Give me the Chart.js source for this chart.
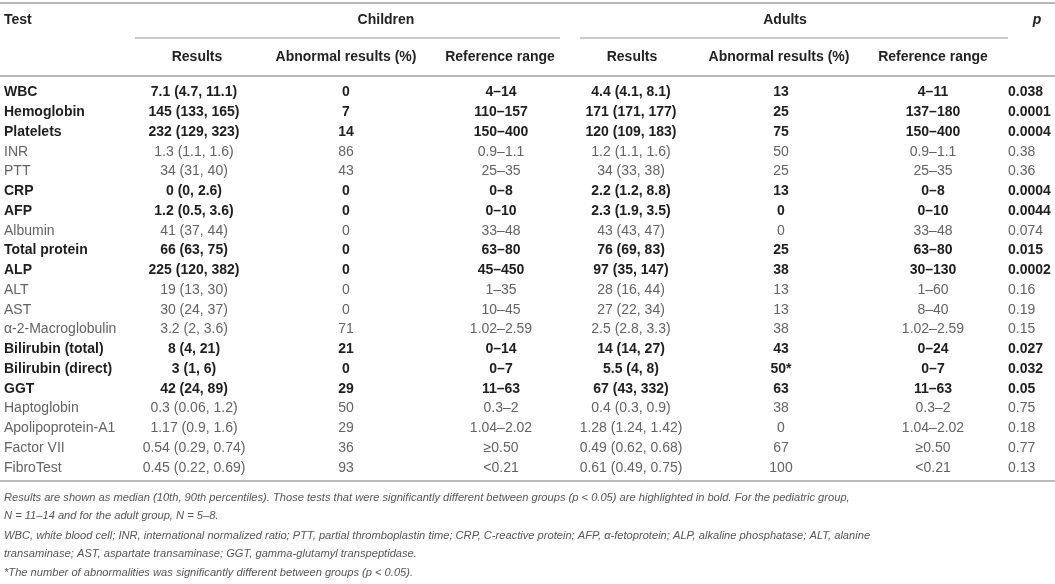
<!DOCTYPE html>
<html>
<head>
<meta charset="utf-8">
<script src="https://cdn.jsdelivr.net/npm/chart.js@4.4.1/dist/chart.umd.min.js"></script>
<style>
  html, body { margin: 0; padding: 0; background: #fff; }
  #wrap { width: 1055px; height: 584px; position: relative; }
</style>
</head>
<body>
<div id="wrap"><canvas id="tabla"></canvas></div>
<script>
// Datos de la tabla
const tests = ['WBC', 'Hemoglobin', 'Platelets', 'INR', 'PTT', 'CRP', 'AFP', 'Albumin', 'Total protein', 'ALP',
  'ALT', 'AST', 'α-2-Macroglobulin', 'Bilirubin (total)', 'Bilirubin (direct)', 'GGT', 'Haptoglobin',
  'Apolipoprotein-A1', 'Factor VII', 'FibroTest'];
const boldRows = [true, true, true, false, false, true, true, false, true, true,
  false, false, false, true, true, true, false, false, false, false];

const childResults = ['7.1 (4.7, 11.1)', '145 (133, 165)', '232 (129, 323)', '1.3 (1.1, 1.6)', '34 (31, 40)',
  '0 (0, 2.6)', '1.2 (0.5, 3.6)', '41 (37, 44)', '66 (63, 75)', '225 (120, 382)', '19 (13, 30)', '30 (24, 37)',
  '3.2 (2, 3.6)', '8 (4, 21)', '3 (1, 6)', '42 (24, 89)', '0.3 (0.06, 1.2)', '1.17 (0.9, 1.6)',
  '0.54 (0.29, 0.74)', '0.45 (0.22, 0.69)'];
const childAbnormal = ['0', '7', '14', '86', '43', '0', '0', '0', '0', '0', '0', '0', '71', '21', '0', '29', '50', '29', '36', '93'];
const childRange = ['4–14', '110–157', '150–400', '0.9–1.1', '25–35', '0–8', '0–10', '33–48', '63–80', '45–450',
  '1–35', '10–45', '1.02–2.59', '0–14', '0–7', '11–63', '0.3–2', '1.04–2.02', '≥0.50', '<0.21'];

const adultResults = ['4.4 (4.1, 8.1)', '171 (171, 177)', '120 (109, 183)', '1.2 (1.1, 1.6)', '34 (33, 38)',
  '2.2 (1.2, 8.8)', '2.3 (1.9, 3.5)', '43 (43, 47)', '76 (69, 83)', '97 (35, 147)', '28 (16, 44)', '27 (22, 34)',
  '2.5 (2.8, 3.3)', '14 (14, 27)', '5.5 (4, 8)', '67 (43, 332)', '0.4 (0.3, 0.9)', '1.28 (1.24, 1.42)',
  '0.49 (0.62, 0.68)', '0.61 (0.49, 0.75)'];
const adultAbnormal = ['13', '25', '75', '50', '25', '13', '0', '0', '25', '38', '13', '13', '38', '43', '50*', '63', '38', '0', '67', '100'];
const adultRange = ['4–11', '137–180', '150–400', '0.9–1.1', '25–35', '0–8', '0–10', '33–48', '63–80', '30–130',
  '1–60', '8–40', '1.02–2.59', '0–24', '0–7', '11–63', '0.3–2', '1.04–2.02', '≥0.50', '<0.21'];
const pValues = ['0.038', '0.0001', '0.0004', '0.38', '0.36', '0.0004', '0.0044', '0.074', '0.015', '0.0002',
  '0.16', '0.19', '0.15', '0.027', '0.032', '0.05', '0.75', '0.18', '0.77', '0.13'];

const subHeaders = ['Results', 'Abnormal results (%)', 'Reference range'];
const footnotes = [
  'Results are shown as median (10th, 90th percentiles). Those tests that were significantly different between groups (p < 0.05) are highlighted in bold. For the pediatric group,',
  'N = 11–14 and for the adult group, N = 5–8.',
  'WBC, white blood cell; INR, international normalized ratio; PTT, partial thromboplastin time; CRP, C-reactive protein; AFP, α-fetoprotein; ALP, alkaline phosphatase; ALT, alanine',
  'transaminase; AST, aspartate transaminase; GGT, gamma-glutamyl transpeptidase.',
  '*The number of abnormalities was significantly different between groups (p < 0.05).'
];

// Disposición (en pixeles del lienzo)
const FONT = '"Liberation Sans", Arial, Helvetica, sans-serif';
const ROW0 = 92.5, ROW_STEP = 19.75, H = 584;
const columnas = [
  { cells: tests, x: 4, align: 'left' },
  { cells: childResults, x: 194, align: 'center' },
  { cells: childAbnormal, x: 346, align: 'center' },
  { cells: childRange, x: 501, align: 'center' },
  { cells: adultResults, x: 631, align: 'center' },
  { cells: adultAbnormal, x: 781, align: 'center' },
  { cells: adultRange, x: 933, align: 'center' },
  { cells: pValues, x: 1008, align: 'left' }
];
const footY = [498, 516, 536, 554, 573];
const FOOT_W = 846; // ancho de la primera línea de notas

const tablaPlugin = {
  id: 'tabla',
  afterDatasetsDraw(chart) {
    const ctx = chart.ctx;
    const xs = chart.scales.x;
    const W = chart.width;
    ctx.save();
    ctx.textBaseline = 'middle';

    // reglas
    function regla(x1, x2, y, w, color) {
      ctx.beginPath();
      ctx.moveTo(x1, y);
      ctx.lineTo(x2, y);
      ctx.lineWidth = w;
      ctx.strokeStyle = color;
      ctx.stroke();
    }
    regla(0, W, 3, 2, '#b8b8b8');
    regla(135, 560, 38, 1.5, '#b8b8b8');
    regla(580, 1008, 38, 1.5, '#b8b8b8');
    regla(0, W, 76, 2, '#b8b8b8');
    regla(0, W, 481, 2, '#b8b8b8');

    // encabezados
    ctx.fillStyle = '#222';
    ctx.font = 'bold 14px ' + FONT;
    ctx.textAlign = 'left';
    ctx.fillText('Test', 4, 20);
    ctx.textAlign = 'center';
    ctx.fillText('Children', xs.getPixelForValue(386), 20);
    ctx.fillText('Adults', xs.getPixelForValue(785), 20);
    ctx.font = 'italic bold 14px ' + FONT;
    ctx.fillText('p', xs.getPixelForValue(1037), 20);
    ctx.font = 'bold 14px ' + FONT;
    [197, 346, 500, 632, 779, 933].forEach((cx, k) => {
      ctx.fillText(subHeaders[k % 3], xs.getPixelForValue(cx), 57);
    });

    // celdas desde los puntos de cada dataset
    chart.data.datasets.forEach((ds, di) => {
      const meta = chart.getDatasetMeta(di);
      ctx.textAlign = columnas[di].align;
      meta.data.forEach((pt, i) => {
        const bold = boldRows[i];
        ctx.font = (bold ? 'bold ' : '') + '14px ' + FONT;
        ctx.fillStyle = bold ? '#1e1e1e' : '#636363';
        ctx.fillText(ds.cells[i], pt.x, pt.y);
      });
    });

    // notas
    ctx.textAlign = 'left';
    ctx.font = 'italic 12px ' + FONT;
    const size = 12 * FOOT_W / ctx.measureText(footnotes[0]).width;
    ctx.font = 'italic ' + size.toFixed(2) + 'px ' + FONT;
    ctx.fillStyle = '#555';
    footnotes.forEach((t, k) => ctx.fillText(t, 4, footY[k]));
    ctx.restore();
  }
};

new Chart(document.getElementById('tabla'), {
  type: 'scatter',
  data: {
    datasets: columnas.map(col => ({
      cells: col.cells,
      data: tests.map((_, i) => ({ x: col.x, y: i })),
      pointRadius: 0,
      pointHoverRadius: 0
    }))
  },
  options: {
    responsive: true,
    maintainAspectRatio: false,
    animation: false,
    events: [],
    layout: { padding: 0 },
    plugins: { legend: { display: false }, tooltip: { enabled: false } },
    scales: {
      x: { type: 'linear', min: 0, max: 1055, display: false },
      y: {
        type: 'linear', reverse: true, display: false,
        min: -ROW0 / ROW_STEP,
        max: -ROW0 / ROW_STEP + H / ROW_STEP
      }
    }
  },
  plugins: [tablaPlugin]
});
</script>
</body>
</html>
